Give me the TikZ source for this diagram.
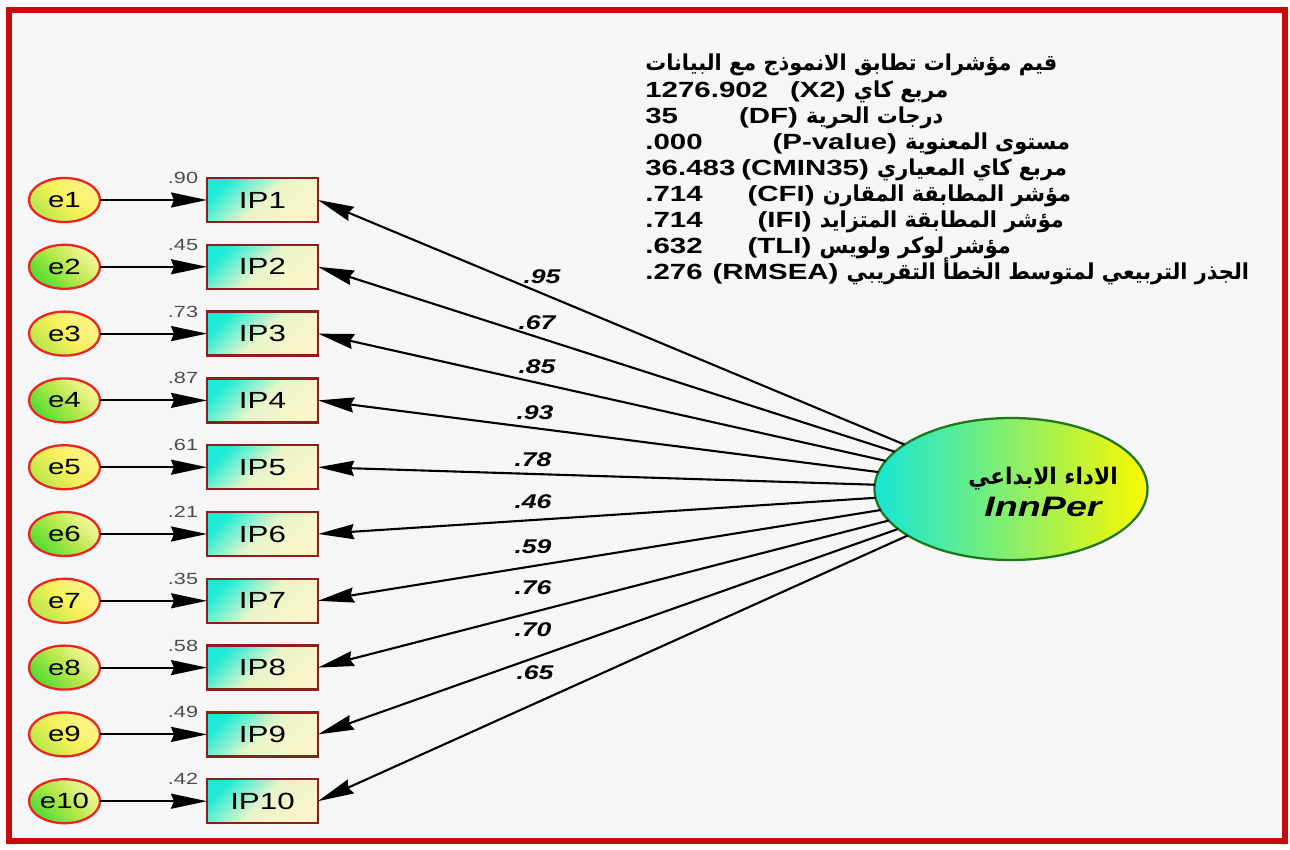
\documentclass[tikz,border=0pt]{standalone}
\usepackage{fontspec}
\setmainfont[FakeStretch=1.34]{Liberation Sans}
\newfontfamily\arabicfont[Script=Arabic,FakeStretch=0.95]{DejaVu Sans}
\TeXXeTstate=1
\usetikzlibrary{shapes,calc,positioning}
\usetikzlibrary{arrows.meta,bending}

\definecolor{frameRed}{RGB}{200,10,10}
\definecolor{panelGray}{RGB}{246,246,246}
\definecolor{boxRed}{RGB}{140,30,30}
\definecolor{errRed}{RGB}{235,35,35}
\definecolor{latGreen}{RGB}{30,120,30}
\definecolor{tealA}{RGB}{30,235,215}
\definecolor{creamA}{RGB}{250,245,200}
\definecolor{yelA}{RGB}{248,240,90}
\definecolor{grnA}{RGB}{80,220,50}
\definecolor{latL}{RGB}{20,230,215}
\definecolor{latR}{RGB}{252,248,0}

\begin{document}
\begin{tikzpicture}[%
    text=black,
    >={Stealth[length=0.72cm,width=0.3cm,inset=0.06cm]},
    arrow/.style={line width=1.2pt},
    obs/.style={rectangle, draw=boxRed, line width=1.3pt,
      minimum width=2.22cm, minimum height=0.88cm, inner sep=0, outer sep=0,
      left color=tealA, right color=creamA, middle color=creamA!92!tealA,
      shading angle=45, font=\fontsize{13.3}{15}\selectfont},
    errodd/.style={ellipse, draw=errRed, line width=1.3pt,
      minimum width=1.42cm, minimum height=0.88cm, inner sep=0, outer sep=0,
      left color=yelA!60!grnA, right color=yelA!70!white,
      middle color=yelA, shading angle=135,
      font=\fontsize{12.5}{15}\selectfont},
    erreven/.style={errodd, left color=grnA, right color=yelA!60!white,
      middle color=grnA!40!yelA, shading angle=135},
    lat/.style={ellipse, draw=latGreen, line width=1.3pt,
      minimum width=5.46cm, minimum height=2.84cm, inner sep=0, outer sep=0,
      left color=latL, right color=latR},
    sq/.style={text=black!70, font=\fontsize{9.2}{11}\selectfont},
    wt/.style={font=\bfseries\itshape\fontsize{11.3}{13}\selectfont},
    fitline/.style={anchor=base west, inner sep=0,
      font=\bfseries\fontsize{12.5}{15}\selectfont}]

  \useasboundingbox (0,0) rectangle (25.8,-17);

  % frame
  \draw[frameRed, line width=0.12cm, fill=panelGray]
    (0.18,-0.2) rectangle (25.7,-16.82);

  % --- indicators ------------------------
  \node (IP1) [obs] at (5.25,-4.0) {IP1};
  \node (IP2) [obs, below=0.456cm of IP1] {IP2};
  \node (IP3) [obs, below=0.456cm of IP2] {IP3};
  \node (IP4) [obs, below=0.456cm of IP3] {IP4};
  \node (IP5) [obs, below=0.456cm of IP4] {IP5};
  \node (IP6) [obs, below=0.456cm of IP5] {IP6};
  \node (IP7) [obs, below=0.456cm of IP6] {IP7};
  \node (IP8) [obs, below=0.456cm of IP7] {IP8};
  \node (IP9) [obs, below=0.456cm of IP8] {IP9};
  \node (IP10) [obs, below=0.456cm of IP9] {IP10};

  % --- errors ----------------------------
  \node (E1) [errodd, left=2.14cm of IP1] {e1};
  \node (E2) [erreven, left=2.14cm of IP2] {e2};
  \node (E3) [errodd, left=2.14cm of IP3] {e3};
  \node (E4) [erreven, left=2.14cm of IP4] {e4};
  \node (E5) [errodd, left=2.14cm of IP5] {e5};
  \node (E6) [erreven, left=2.14cm of IP6] {e6};
  \node (E7) [errodd, left=2.14cm of IP7] {e7};
  \node (E8) [erreven, left=2.14cm of IP8] {e8};
  \node (E9) [errodd, left=2.14cm of IP9] {e9};
  \node (E10) [erreven, left=2.14cm of IP10] {e10};

  \draw[->,arrow] (E1) -- (IP1);
  \draw[->,arrow] (E2) -- (IP2);
  \draw[->,arrow] (E3) -- (IP3);
  \draw[->,arrow] (E4) -- (IP4);
  \draw[->,arrow] (E5) -- (IP5);
  \draw[->,arrow] (E6) -- (IP6);
  \draw[->,arrow] (E7) -- (IP7);
  \draw[->,arrow] (E8) -- (IP8);
  \draw[->,arrow] (E9) -- (IP9);
  \draw[->,arrow] (E10) -- (IP10);

  % squared multiple correlations
  \node (R1) [sq] at ($(IP1.north west)+(-0.48,0)$) {.90};
  \node (R2) [sq] at ($(IP2.north west)+(-0.48,0)$) {.45};
  \node (R3) [sq] at ($(IP3.north west)+(-0.48,0)$) {.73};
  \node (R4) [sq] at ($(IP4.north west)+(-0.48,0)$) {.87};
  \node (R5) [sq] at ($(IP5.north west)+(-0.48,0)$) {.61};
  \node (R6) [sq] at ($(IP6.north west)+(-0.48,0)$) {.21};
  \node (R7) [sq] at ($(IP7.north west)+(-0.48,0)$) {.35};
  \node (R8) [sq] at ($(IP8.north west)+(-0.48,0)$) {.58};
  \node (R9) [sq] at ($(IP9.north west)+(-0.48,0)$) {.49};
  \node (R10) [sq] at ($(IP10.north west)+(-0.48,0)$) {.42};

  % --- latent ----------------------------
  \node (INN) [lat] at (20.22,-9.78) {};
  \node (INNL) [align=center, inner sep=0] at ($(INN)+(0.64,-0.06)$)
        {{\arabicfont\bfseries\fontsize{13}{16}\selectfont\beginR الاداء الابداعي\endR}\\[0.1cm]
         {\bfseries\itshape\fontsize{16}{18}\selectfont InnPer}};

  \draw[->,arrow] (INN) -- (IP1.east);
  \draw[->,arrow] (INN) -- (IP2.east);
  \draw[->,arrow] (INN) -- (IP3.east);
  \draw[->,arrow] (INN) -- (IP4.east);
  \draw[->,arrow] (INN) -- (IP5.east);
  \draw[->,arrow] (INN) -- (IP6.east);
  \draw[->,arrow] (INN) -- (IP7.east);
  \draw[->,arrow] (INN) -- (IP8.east);
  \draw[->,arrow] (INN) -- (IP9.east);
  \draw[->,arrow] (INN) -- (IP10.east);

  % loadings
  \node (W1) [wt] at (10.84,-5.54) {.95};
  \node (W2) [wt] at (10.74,-6.46) {.67};
  \node (W3) [wt] at (10.74,-7.34) {.85};
  \node (W4) [wt] at (10.70,-8.26) {.93};
  \node (W5) [wt] at (10.66,-9.20) {.78};
  \node (W6) [wt] at (10.66,-10.04) {.46};
  \node (W7) [wt] at (10.66,-10.94) {.59};
  \node (W8) [wt] at (10.66,-11.76) {.76};
  \node (W9) [wt] at (10.66,-12.60) {.70};
  \node (W10) [wt] at (10.70,-13.46) {.65};

  % --- fit indices -----------------------
  \node (FIT0) [fitline] at (12.9,-1.42)
        {\beginR{\arabicfont قيم مؤشرات تطابق الانموذج مع البيانات}\endR};
  \node (FIT1) [fitline] at ($(FIT0.base west)+(0,-0.52)$)
        {\beginR{\arabicfont مربع كاي} \beginL(X2)\endL\hspace{0.44cm}\beginL 1276.902\endL\endR};
  \node (FIT2) [fitline] at ($(FIT1.base west)+(0,-0.52)$)
        {\beginR{\arabicfont درجات الحرية} \beginL(DF)\endL\hspace{1.22cm}\beginL 35\endL\endR};
  \node (FIT3) [fitline] at ($(FIT2.base west)+(0,-0.52)$)
        {\beginR{\arabicfont مستوى المعنوية} \beginL(P-value)\endL\hspace{1.4cm}\beginL .000\endL\endR};
  \node (FIT4) [fitline] at ($(FIT3.base west)+(0,-0.52)$)
        {\beginR{\arabicfont مربع كاي المعياري} \beginL(CMIN35)\endL\hspace{0.12cm}\beginL 36.483\endL\endR};
  \node (FIT5) [fitline] at ($(FIT4.base west)+(0,-0.52)$)
        {\beginR{\arabicfont مؤشر المطابقة المقارن} \beginL(CFI)\endL\hspace{0.9cm}\beginL .714\endL\endR};
  \node (FIT6) [fitline] at ($(FIT5.base west)+(0,-0.52)$)
        {\beginR{\arabicfont مؤشر المطابقة المتزايد} \beginL(IFI)\endL\hspace{1.1cm}\beginL .714\endL\endR};
  \node (FIT7) [fitline] at ($(FIT6.base west)+(0,-0.52)$)
        {\beginR{\arabicfont مؤشر لوكر ولويس} \beginL(TLI)\endL\hspace{0.9cm}\beginL .632\endL\endR};
  \node (FIT8) [fitline] at ($(FIT7.base west)+(0,-0.52)$)
        {\beginR{\arabicfont الجذر التربيعي لمتوسط الخطأ التقريبي} \beginL(RMSEA)\endL\hspace{0.2cm}\beginL .276\endL\endR};
\end{tikzpicture}
\end{document}
